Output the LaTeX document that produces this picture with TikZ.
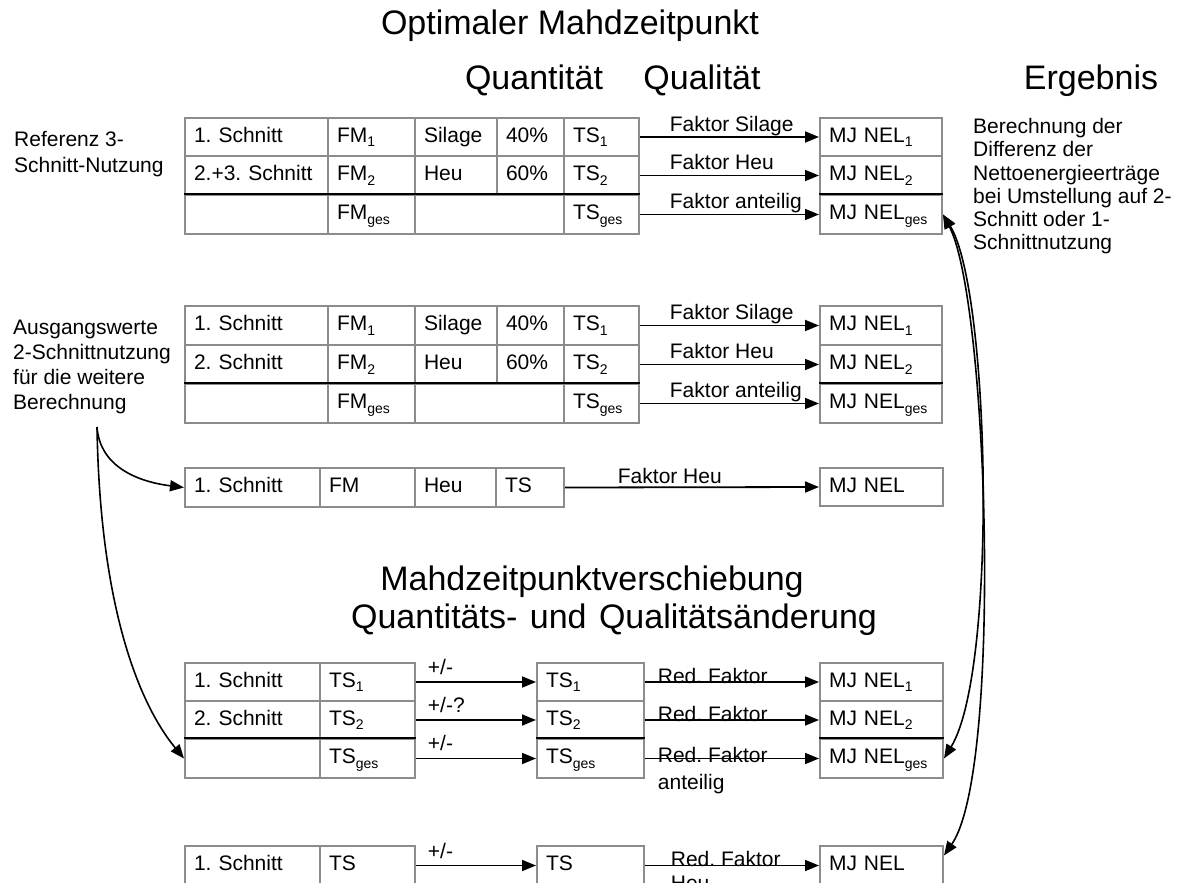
\documentclass[tikz,border=0pt]{standalone}
\usepackage{fontspec}
\setmainfont{Liberation Sans}
\usetikzlibrary{arrows.meta}
\frenchspacing
\definecolor{cellgray}{RGB}{140,140,140}
\newcommand\sbs[1]{\raisebox{-4.5bp}{\fontsize{14bp}{14bp}\selectfont #1}}
\newcommand\cellnode[6]{%
  \pgfmathsetmacro\cwdth{#4-#2-18}%
  \pgfmathsetmacro\chght{#5-#3}%
  \node[cell, text width=\cwdth bp, minimum height=\chght bp] (#1) at (#2,#3) {#6};}
\begin{document}
\begin{tikzpicture}[x=1bp,y=-1bp,
  every node/.style={font=\fontsize{21bp}{25bp}\selectfont},
  cell/.style={draw=cellgray, line width=2bp, anchor=north west, inner xsep=9bp, inner ysep=0pt, text height=15bp, text depth=5bp, align=left},
  head/.style={font=\fontsize{34bp}{38bp}\selectfont, inner sep=0pt, anchor=base},
  txt/.style={inner sep=0pt, anchor=north west, align=left},
  arr/.style={-{Triangle[length=14bp,width=11bp]}, line width=1.8bp},
  curv/.style={-{Triangle[length=14bp,width=11bp]}, line width=1.6bp},
  dcurv/.style={{Triangle[length=14bp,width=11bp]}-{Triangle[length=14bp,width=11bp]}, line width=1.6bp},
  sep/.style={line width=2.6bp},
  lab/.style={inner sep=0pt, anchor=base west},
  lab3/.style={inner sep=0pt, anchor=north west, align=left, font=\fontsize{21bp}{27bp}\selectfont},
]
\fill[white] (0,0) rectangle (1181,883);
\useasboundingbox (0,0) rectangle (1181,883);

% headings
\node[head] (h1) at (570,34) {Optimaler Mahdzeitpunkt};
\node[head] (h2) at (534,89) {Quantität};
\node[head] (h3) at (702,89) {Qualität};
\node[head] (h4) at (1091,89) {Ergebnis};
\node[head] (h5) at (592,590) {Mahdzeitpunktverschiebung};
\node[head] (h6) at (614,628) {Quantitäts-\hspace{3bp} und\hspace{3bp} Qualitätsänderung};

% side texts
\node[txt, font=\fontsize{21bp}{26.5bp}\selectfont] (t1) at (14,131) {Referenz 3-\\Schnitt-Nutzung};
\node[txt] (t2) at (13,320) {Ausgangswerte\\2-Schnittnutzung\\für die weitere\\Berechnung};
\node[txt, font=\fontsize{21bp}{23.3bp}\selectfont] (t3) at (973,118) {Berechnung der\\Differenz der\\Nettoenergieerträge\\bei Umstellung auf 2-\\Schnitt oder 1-\\Schnittnutzung};

% table 1
\cellnode{a11}{184}{117}{327}{155}{1. Schnitt}
\cellnode{a12}{327}{117}{414}{155}{FM\sbs{1}}
\cellnode{a13}{414}{117}{496}{155}{Silage}
\cellnode{a14}{496}{117}{563}{155}{40\%}
\cellnode{a15}{563}{117}{638}{155}{TS\sbs{1}}
\cellnode{a21}{184}{155}{327}{194}{2.+3. Schnitt}
\cellnode{a22}{327}{155}{414}{194}{FM\sbs{2}}
\cellnode{a23}{414}{155}{496}{194}{Heu}
\cellnode{a24}{496}{155}{563}{194}{60\%}
\cellnode{a25}{563}{155}{638}{194}{TS\sbs{2}}
\cellnode{a31}{184}{194}{327}{233}{}
\cellnode{a32}{327}{194}{414}{233}{FM\sbs{ges}}
\cellnode{a33}{414}{194}{563}{233}{}
\cellnode{a35}{563}{194}{638}{233}{TS\sbs{ges}}
\cellnode{am1}{819}{117}{941}{155}{MJ NEL\sbs{1}}
\cellnode{am2}{819}{155}{941}{194}{MJ NEL\sbs{2}}
\cellnode{am3}{819}{194}{941}{233}{MJ NEL\sbs{ges}}
\draw[sep] (a31.north west) -- (a35.north east);
\draw[sep] (am3.north west) -- (am3.north east);
\draw[arr] (a15.east) -- node[lab, pos=0, xshift=29bp, yshift=6bp] {Faktor Silage} (am1.west);
\draw[arr] (a25.east) -- node[lab, pos=0, xshift=29bp, yshift=6bp] {Faktor Heu} (am2.west);
\draw[arr] (a35.east) -- node[lab, pos=0, xshift=29bp, yshift=6bp] {Faktor anteilig} (am3.west);

% table 2
\cellnode{e11}{184}{305}{327}{344}{1. Schnitt}
\cellnode{e12}{327}{305}{414}{344}{FM\sbs{1}}
\cellnode{e13}{414}{305}{496}{344}{Silage}
\cellnode{e14}{496}{305}{563}{344}{40\%}
\cellnode{e15}{563}{305}{638}{344}{TS\sbs{1}}
\cellnode{e21}{184}{344}{327}{383}{2. Schnitt}
\cellnode{e22}{327}{344}{414}{383}{FM\sbs{2}}
\cellnode{e23}{414}{344}{496}{383}{Heu}
\cellnode{e24}{496}{344}{563}{383}{60\%}
\cellnode{e25}{563}{344}{638}{383}{TS\sbs{2}}
\cellnode{e31}{184}{383}{327}{422}{}
\cellnode{e32}{327}{383}{414}{422}{FM\sbs{ges}}
\cellnode{e33}{414}{383}{563}{422}{}
\cellnode{e35}{563}{383}{638}{422}{TS\sbs{ges}}
\cellnode{em1}{819}{305}{941}{344}{MJ NEL\sbs{1}}
\cellnode{em2}{819}{344}{941}{383}{MJ NEL\sbs{2}}
\cellnode{em3}{819}{383}{941}{422}{MJ NEL\sbs{ges}}
\draw[sep] (e31.north west) -- (e35.north east);
\draw[sep] (em3.north west) -- (em3.north east);
\draw[arr] (e15.east) -- node[lab, pos=0, xshift=29bp, yshift=6bp] {Faktor Silage} (em1.west);
\draw[arr] (e25.east) -- node[lab, pos=0, xshift=29bp, yshift=6bp] {Faktor Heu} (em2.west);
\draw[arr] (e35.east) -- node[lab, pos=0, xshift=29bp, yshift=6bp] {Faktor anteilig} (em3.west);

% single row table
\cellnode{b1}{184}{467}{319}{506}{1. Schnitt}
\cellnode{b2}{319}{467}{414}{506}{FM}
\cellnode{b3}{414}{467}{495}{506}{Heu}
\cellnode{b4}{495}{467}{563}{506}{TS}
\cellnode{bM}{819}{467}{942}{505}{MJ NEL}
\draw[arr] (b4.east) -- node[lab, pos=0, xshift=52bp, yshift=4bp] {Faktor Heu} (bM.west);

% table A
\cellnode{c11}{184}{662}{319}{700}{1. Schnitt}
\cellnode{c12}{319}{662}{414}{700}{TS\sbs{1}}
\cellnode{c21}{184}{700}{319}{738}{2. Schnitt}
\cellnode{c22}{319}{700}{414}{738}{TS\sbs{2}}
\cellnode{c31}{184}{738}{319}{777}{}
\cellnode{c32}{319}{738}{414}{777}{TS\sbs{ges}}
\cellnode{cT1}{536}{662}{643}{700}{TS\sbs{1}}
\cellnode{cT2}{536}{700}{643}{738}{TS\sbs{2}}
\cellnode{cT3}{536}{738}{643}{777}{TS\sbs{ges}}
\cellnode{cM1}{819}{662}{942}{700}{MJ NEL\sbs{1}}
\cellnode{cM2}{819}{700}{942}{738}{MJ NEL\sbs{2}}
\cellnode{cM3}{819}{738}{942}{777}{MJ NEL\sbs{ges}}
\draw[sep] (c31.north west) -- (c32.north east);
\draw[sep] (cT3.north west) -- (cT3.north east);
\draw[sep] (cM3.north west) -- (cM3.north east);
\draw[arr] (c12.east) -- node[lab, pos=0, xshift=11bp, yshift=8bp] {+/-} (cT1.west);
\draw[arr] (c22.east) -- node[lab, pos=0, xshift=11bp, yshift=8bp] {+/-?} (cT2.west);
\draw[arr] (c32.east) -- node[lab, pos=0, xshift=11bp, yshift=8bp] {+/-} (cT3.west);
\draw[arr] (cT1.east) -- node[lab, pos=0, xshift=12bp, yshift=-1.5bp] {Red. Faktor} (cM1.west);
\draw[arr] (cT2.east) -- node[lab, pos=0, xshift=12bp, yshift=-1.5bp] {Red. Faktor} (cM2.west);
\draw[arr] (cT3.east) -- node[lab3, pos=0, xshift=12bp, yshift=12bp] {Red. Faktor\\anteilig} (cM3.west);

% table B
\cellnode{d1}{184}{845}{319}{884}{1. Schnitt}
\cellnode{d2}{319}{845}{414}{884}{TS}
\cellnode{dT}{536}{845}{643}{884}{TS}
\cellnode{dM}{819}{845}{942}{884}{MJ NEL}
\draw[arr] (d2.east) -- node[lab, pos=0, xshift=11bp, yshift=7bp] {+/-} (dT.west);
\draw[arr] (dT.east) -- node[lab3, pos=0, xshift=25bp, yshift=15bp, font=\fontsize{21bp}{24bp}\selectfont] {Red. Faktor\\Heu} (dM.west);

% curved connectors
\coordinate (src) at (97,427);
\draw[curv] (src) .. controls (100,468) and (140,482) .. (b1.west);
\draw[curv] (src) .. controls (100,610) and (140,705) .. (c31.west);
\draw[dcurv] (am3.east) .. controls (990,290) and (998,670) .. (cM3.east);
\draw[dcurv] (am3.east) .. controls (988,300) and (1003,770) .. ([yshift=10bp]dM.east);
\end{tikzpicture}
\end{document}
